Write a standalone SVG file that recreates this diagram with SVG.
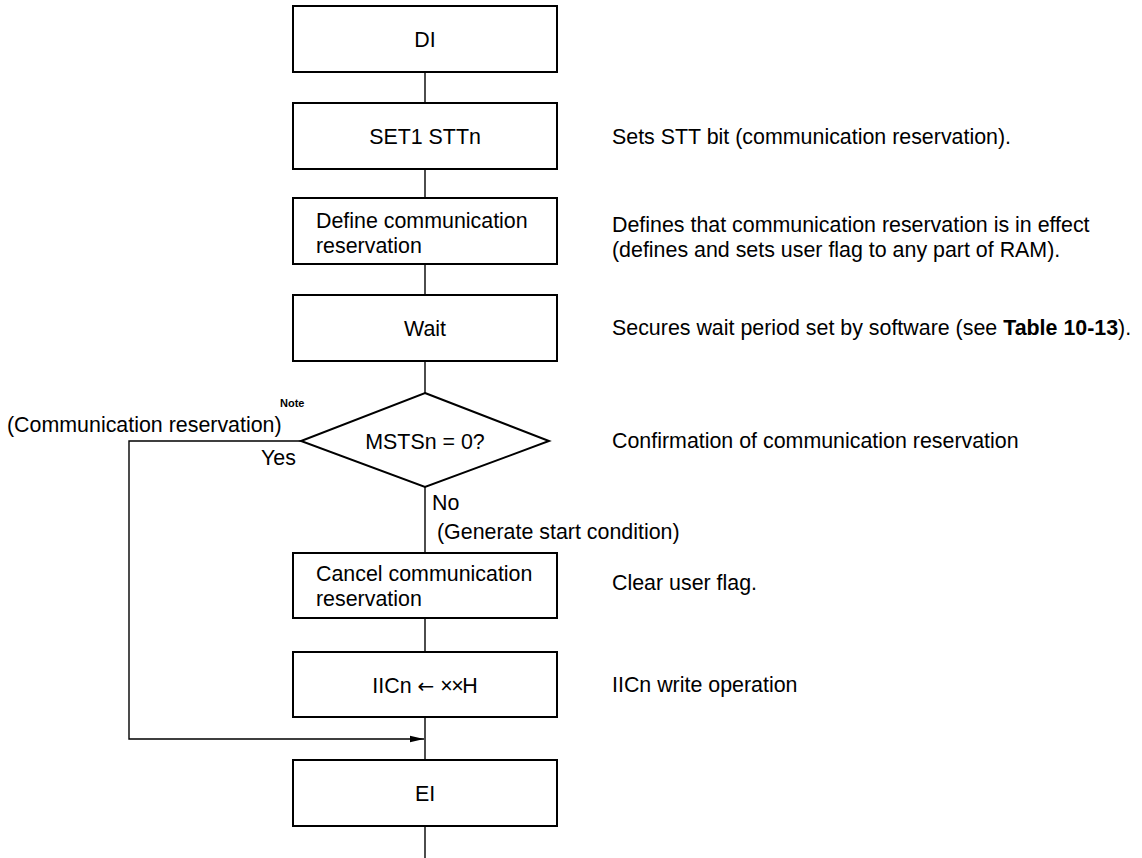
<svg xmlns="http://www.w3.org/2000/svg" width="1142" height="858" viewBox="0 0 1142 858">
<style>
.box{fill:#fff;stroke:#000;stroke-width:2}
.ln{fill:none;stroke:#000;stroke-width:1.4}
text{font-family:"Liberation Sans",Arial,sans-serif;font-size:21.4px;fill:#000}
.c{text-anchor:middle}
.note{font-size:11px;font-weight:bold}
</style>
<defs>
<marker id="arr" markerWidth="15" markerHeight="9" refX="14" refY="4.5" orient="auto" markerUnits="userSpaceOnUse">
<path d="M0,1.2 L14,4.5 L0,7.8 Z" fill="#000"/>
</marker>
</defs>
<rect width="1142" height="858" fill="#fff"/>
<g id="connectors">
<line class="ln" x1="425" y1="72" x2="425" y2="103"/>
<line class="ln" x1="425" y1="169" x2="425" y2="198"/>
<line class="ln" x1="425" y1="264" x2="425" y2="295"/>
<line class="ln" x1="425" y1="361" x2="425" y2="393"/>
<line class="ln" x1="425" y1="487" x2="425" y2="553"/>
<line class="ln" x1="425" y1="618" x2="425" y2="652"/>
<line class="ln" x1="425" y1="717" x2="425" y2="760"/>
<line class="ln" x1="425" y1="826" x2="425" y2="858"/>
<polyline class="ln" points="301,441 129,441 129,739 424,739" marker-end="url(#arr)"/>
</g>
<g id="n-di">
<rect class="box" x="293" y="6" width="264" height="66"/>
<text class="c" x="425" y="47">DI</text>
</g>
<g id="n-set1">
<rect class="box" x="293" y="103" width="264" height="66"/>
<text class="c" x="425" y="144">SET1 STTn</text>
</g>
<g id="n-define">
<rect class="box" x="293" y="198" width="264" height="66"/>
<text x="316" y="228">Define communication</text>
<text x="316" y="253">reservation</text>
</g>
<g id="n-wait">
<rect class="box" x="293" y="295" width="264" height="66"/>
<text class="c" x="425" y="336">Wait</text>
</g>
<g id="n-decision">
<polygon class="box" points="425,393 549,441 425,487 301,441"/>
<text class="c" x="425" y="449">MSTSn = 0?</text>
</g>
<g id="n-cancel">
<rect class="box" x="293" y="553" width="264" height="65"/>
<text x="316" y="581">Cancel communication</text>
<text x="316" y="606">reservation</text>
</g>
<g id="n-iicn">
<rect class="box" x="293" y="652" width="264" height="65"/>
<text class="c" x="425" y="693">IICn <tspan font-family="DejaVu Sans, sans-serif" font-size="20">←</tspan> <tspan letter-spacing="-1.5">××</tspan>H</text>
</g>
<g id="n-ei">
<rect class="box" x="293" y="760" width="264" height="66"/>
<text class="c" x="425" y="801">EI</text>
</g>
<g id="labels">
<text class="note" x="280" y="407">Note</text>
<text x="7" y="432">(Communication reservation)</text>
<text x="261" y="465">Yes</text>
<text x="432" y="510">No</text>
<text x="437" y="539">(Generate start condition)</text>
</g>
<g id="annotations">
<text x="612" y="144">Sets STT bit (communication reservation).</text>
<text x="612" y="232">Defines that communication reservation is in effect</text>
<text x="612" y="257">(defines and sets user flag to any part of RAM).</text>
<text x="612" y="335">Secures wait period set by software (see <tspan font-weight="bold">Table 10-13</tspan>).</text>
<text x="612" y="448">Confirmation of communication reservation</text>
<text x="612" y="590">Clear user flag.</text>
<text x="612" y="692">IICn write operation</text>
</g>
</svg>
